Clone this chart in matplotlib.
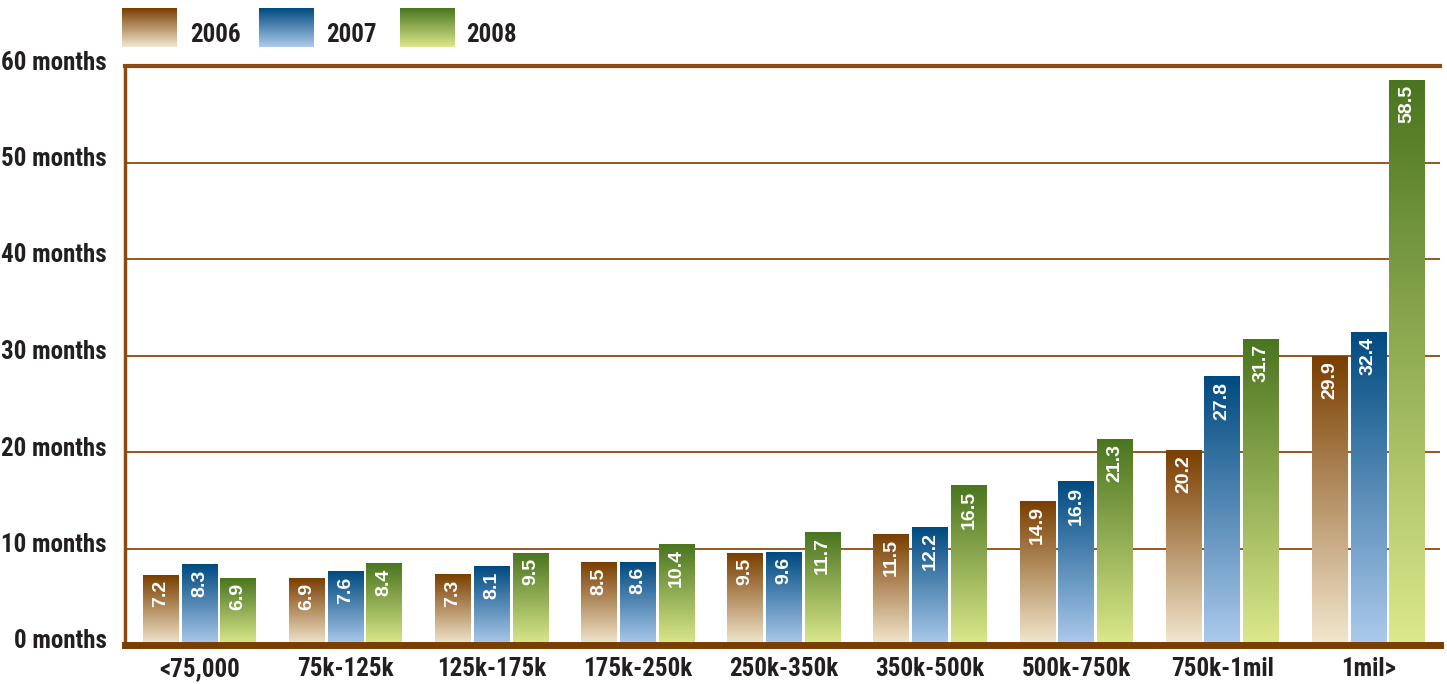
import numpy as np
import matplotlib
matplotlib.use("Agg")
import matplotlib.pyplot as plt
import matplotlib.transforms as mtransforms
from matplotlib.colors import LinearSegmentedColormap
from matplotlib import font_manager

categories = ["<75,000", "75k-125k", "125k-175k", "175k-250k", "250k-350k",
              "350k-500k", "500k-750k", "750k-1mil", "1mil>"]
years = ["2006", "2007", "2008"]
v2006 = [7.2, 6.9, 7.3, 8.5, 9.5, 11.5, 14.9, 20.2, 29.9]
v2007 = [8.3, 7.6, 8.1, 8.6, 9.6, 12.2, 16.9, 27.8, 32.4]
v2008 = [6.9, 8.4, 9.5, 10.4, 11.7, 16.5, 21.3, 31.7, 58.5]
yticks = [0, 10, 20, 30, 40, 50, 60]
ytick_labels = [f"{t} months" for t in yticks]

# (bottom colour, top colour) per year
grads = [("#f3e8cf", "#7a3e00"), ("#adcbec", "#004a80"), ("#dde98c", "#4a751f")]
cmaps = [LinearSegmentedColormap.from_list(y, c) for y, c in zip(years, grads)]

# condensed face for the axis text
names = {f.name for f in font_manager.fontManager.ttflist}
cond = [n for n in ["Liberation Sans Narrow", "Roboto Condensed", "Open Sans Condensed"] if n in names]
cond += ["DejaVu Sans"]
txt_kw = dict(fontsize=18, fontweight="bold", family=cond, fontstretch="condensed", color="#231f20")
brown = "#8a4a12"

fig = plt.figure(figsize=(14.47, 6.84), dpi=100)
ax = fig.add_axes([125 / 1447, 39 / 684, (1440 - 125) / 1447, (645 - 66) / 684])

grad = np.linspace(0, 1, 256).reshape(-1, 1)
width = 0.245
step = 0.265
series = [v2006, v2007, v2008]
for k, vals in enumerate(series):
    for i, v in enumerate(vals):
        xc = i + (k - 1) * step
        ax.imshow(grad, cmap=cmaps[k], origin="lower", aspect="auto",
                  extent=[xc - width / 2, xc + width / 2, 0, v], zorder=3)
        ax.text(xc, v - 0.5, f"{v}", rotation=90, ha="center", va="top",
                color="white", fontsize=14, fontweight="bold",
                family=["Liberation Sans", "DejaVu Sans"], zorder=4)

ax.set_xlim(-0.51, 8.49)
ax.set_ylim(0, 60)

for t in yticks[1:-1]:
    ax.axhline(t, color=brown, lw=1.3, zorder=1)
ax.axhline(60, color=brown, lw=3, zorder=1, clip_on=False)

for s in ["right", "top"]:
    ax.spines[s].set_visible(False)
ax.spines["left"].set_color(brown)
ax.spines["left"].set_linewidth(2.5)
ax.spines["bottom"].set_color("#7a3e00")
ax.spines["bottom"].set_linewidth(5)
ax.spines["bottom"].set_zorder(5)

ax.set_xticks(range(len(categories)))
ax.set_xticklabels(categories, **txt_kw)
ax.set_yticks(yticks)
ax.set_yticklabels(ytick_labels, **txt_kw)
ax.tick_params(axis="x", length=0, pad=9)
ax.tick_params(axis="y", length=0, pad=13)
# y labels sit a little above their lines
up = mtransforms.ScaledTranslation(0, 6 / 100, fig.dpi_scale_trans)
for lab in ax.get_yticklabels():
    lab.set_transform(lab.get_transform() + up)

# legend
sw_x = [122, 259, 400]
lab_x = [190, 326, 466]
for k, y in enumerate(years):
    lax = fig.add_axes([sw_x[k] / 1447, (684 - 47) / 684, 55 / 1447, 39 / 684])
    lax.imshow(grad, cmap=cmaps[k], origin="lower", aspect="auto")
    lax.axis("off")
    fig.text(lab_x[k] / 1447, (684 - 35) / 684, y, ha="left", va="center", **txt_kw)

fig.savefig("out.png", dpi=100)
